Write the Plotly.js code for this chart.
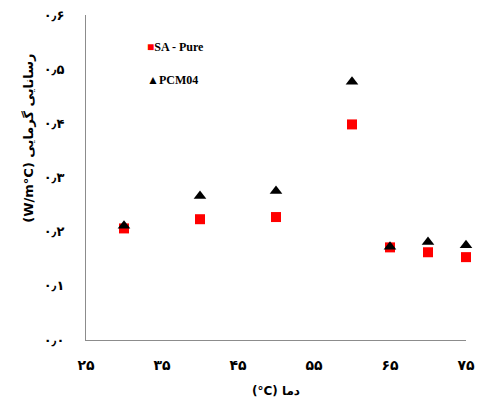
<!DOCTYPE html>
<html>
<head>
<meta charset="utf-8">
<script src="https://cdn.plot.ly/plotly-3.0.1.min.js"></script>
<style>
  html, body { margin: 0; padding: 0; background: #fff; }
  #chart { width: 479px; height: 407px; }
</style>
</head>
<body>
<div id="chart"></div>
<script>
// Temperature (°C) and thermal conductivity (W/m°C) of the two samples
const temperature = [30, 40, 50, 60, 65, 70, 75];
const saPure = [0.206, 0.223, 0.227, 0.398, 0.171, 0.162, 0.153];
const pcm04  = [0.211, 0.266, 0.275, 0.477, 0.172, 0.181, 0.175];
const seriesNames = ['SA - Pure', 'PCM04'];

// Axis ticks with Persian digits
const xTickVals = [25, 35, 45, 55, 65, 75];
const xTickText = ['۲۵', '۳۵', '۴۵', '۵۵', '۶۵', '۷۵'];
const yTickVals = [0, 0.1, 0.2, 0.3, 0.4, 0.5, 0.6];
const yTickText = ['۰٫۰', '۰٫۱', '۰٫۲', '۰٫۳', '۰٫۴', '۰٫۵', '۰٫۶'];

// LRM keeps the unit "°C" in left-to-right order inside the Persian title
const xTitle = 'دما (\u200E°C)';
const yTitle = 'رسانایی گرمایی (W/m°C)';

// right-to-left embedding so the Persian titles read in their natural order
const rtl = s => '\u202B' + s + '\u202C';
const bold = s => '<b>' + s + '</b>';

const persianFont = 'DejaVu Sans, sans-serif';
const latinFont = 'Liberation Serif, Times New Roman, serif';

const traces = [
  {
    x: temperature, y: saPure, name: seriesNames[0],
    type: 'scatter', mode: 'markers', cliponaxis: false,
    marker: { symbol: 'square', size: 10, color: '#ff0000' }
  },
  {
    x: temperature, y: pcm04, name: seriesNames[1],
    type: 'scatter', mode: 'markers', cliponaxis: false,
    marker: { symbol: 'triangle-up', size: 11, color: '#000000' }
  }
];

const layout = {
  width: 479, height: 407,
  margin: { l: 86, r: 13, t: 15, b: 67 },
  paper_bgcolor: '#ffffff', plot_bgcolor: '#ffffff',
  showlegend: false,
  xaxis: {
    range: [25, 75],
    tickvals: xTickVals, ticktext: xTickText.map(bold),
    showgrid: false, zeroline: false,
    showline: true, linecolor: '#8c8c8c', linewidth: 1,
    ticks: '', ticklabelstandoff: 12,
    tickfont: { family: persianFont, size: 14, color: '#000' },
    title: { text: bold(rtl(xTitle)), standoff: 14,
             font: { family: persianFont, size: 12, color: '#000' } }
  },
  yaxis: {
    range: [0, 0.6],
    tickvals: yTickVals, ticktext: yTickText.map(bold),
    showgrid: false, zeroline: false,
    showline: true, linecolor: '#8c8c8c', linewidth: 1,
    ticks: '', ticklabelstandoff: 18,
    tickfont: { family: persianFont, size: 13, color: '#000' }
  },
  annotations: [
    {
      text: bold(rtl(yTitle)), textangle: -90,
      xref: 'paper', yref: 'paper', x: -0.152, y: 0.62,
      xanchor: 'center', yanchor: 'middle', showarrow: false,
      font: { family: persianFont, size: 13, color: '#000' }
    },
    {
      text: '<span style="color:#ff0000">■</span>' + bold(seriesNames[0]),
      xref: 'paper', yref: 'paper', x: 0.155, y: 0.90,
      xanchor: 'left', yanchor: 'middle', showarrow: false,
      font: { family: latinFont, size: 12, color: '#000' }
    },
    {
      text: '▲' + bold(seriesNames[1]),
      xref: 'paper', yref: 'paper', x: 0.155, y: 0.80,
      xanchor: 'left', yanchor: 'middle', showarrow: false,
      font: { family: latinFont, size: 12, color: '#000' }
    }
  ]
};

Plotly.newPlot('chart', traces, layout, { displayModeBar: false, staticPlot: true });
</script>
</body>
</html>
